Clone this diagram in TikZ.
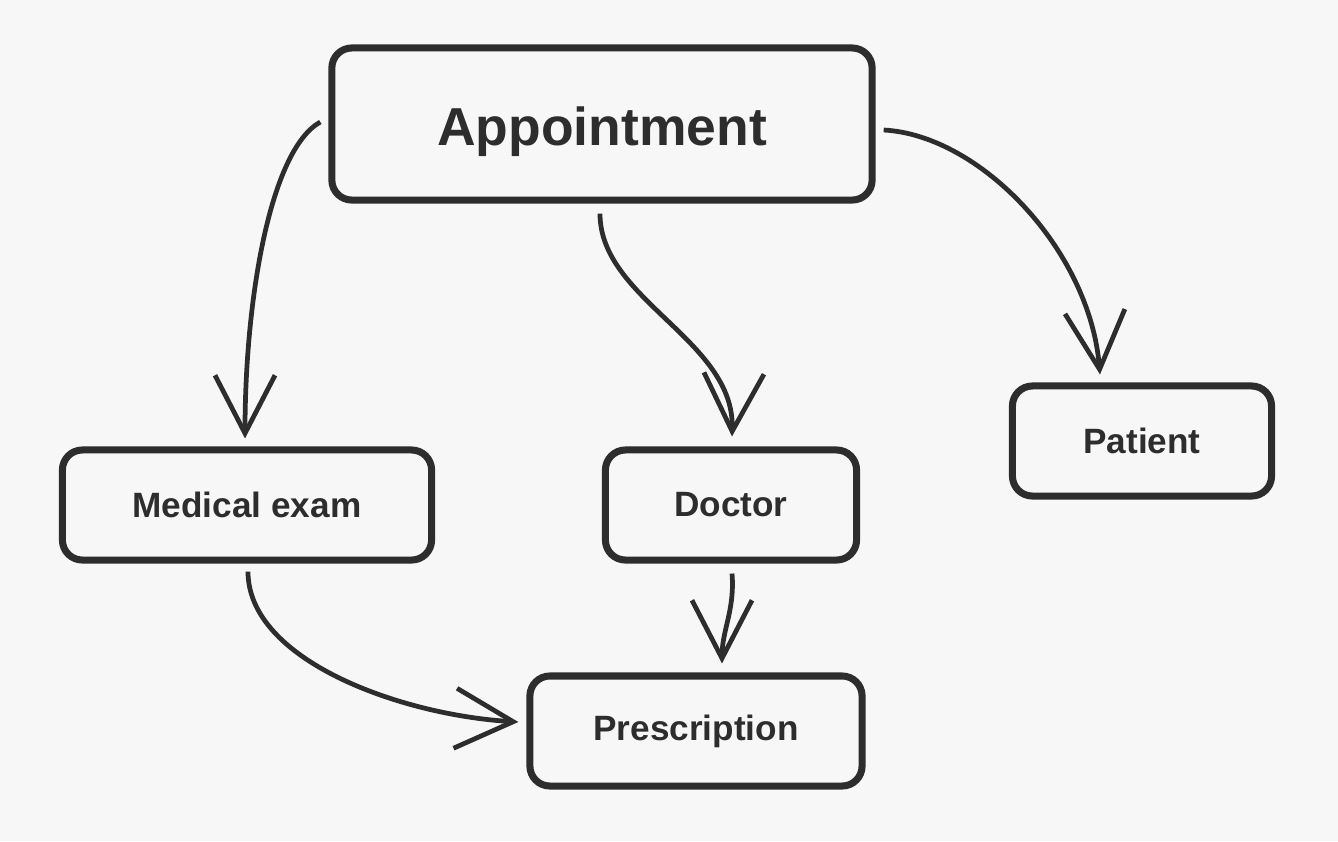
\documentclass[tikz,border=0pt]{standalone}
\usepackage{fontspec}
\setmainfont{Liberation Sans}
\usetikzlibrary{arrows.meta, calc}
\usepackage{xcolor}
\definecolor{ink}{HTML}{2D2D2D}
\definecolor{paper}{HTML}{F7F7F7}

\begin{document}
\begin{tikzpicture}[
    x=0.01cm, y=-0.01cm,
    box/.style={rectangle, draw=ink, rounded corners=0.2cm, align=center, fill=paper, line width=2pt, text=ink, font=\fontsize{10}{12}\selectfont\bfseries, minimum height=1.1cm},
    arrow/.style={-{Straight Barb[length=0.58cm, width=0.6cm]}, draw=ink, line width=1.35pt}
]

% Background
\fill[paper] (0,0) rectangle (1338,841);
\useasboundingbox (0,0) rectangle (1338,841);

% Nodes
\node[box, minimum width=5.4cm, minimum height=1.52cm, text height=0.54cm, text depth=0.11cm, font=\fontsize{15.2}{18}\selectfont\bfseries] (appt) at (602,124) {Appointment};
\node[box, minimum width=3.69cm] (medexam) at (247,505) {Medical exam};
\node[box, minimum width=2.51cm] (doctor) at (731,505) {Doctor};
\node[box, minimum width=2.59cm] (patient) at (1142,441) {Patient};
\node[box, minimum width=3.32cm] (presc) at (696,731) {Prescription};

% Connecting arrows
\draw[arrow] ($(appt.west)+(-8,-2)$) .. controls (270,150) and (245,300) .. ($(medexam.north)+(-2,-8)$);
\draw[arrow] ($(appt.south)+(-2,10)$) .. controls (600,300) and (735,340) .. ($(doctor.north)+(1,-10)$);
\draw[arrow] ($(appt.east)+(8,6)$) .. controls (980,135) and (1090,250) .. ($(patient.north)+(-42,-8)$);
\draw[arrow] ($(medexam.south)+(1,8)$) .. controls (248,660) and (400,715) .. ($(presc.west)+(-8,-9)$);
\draw[arrow] ($(doctor.south)+(1,10)$) .. controls (735,610) and (722,630) .. ($(presc.north)+(26,-9)$);

\end{tikzpicture}
\end{document}
